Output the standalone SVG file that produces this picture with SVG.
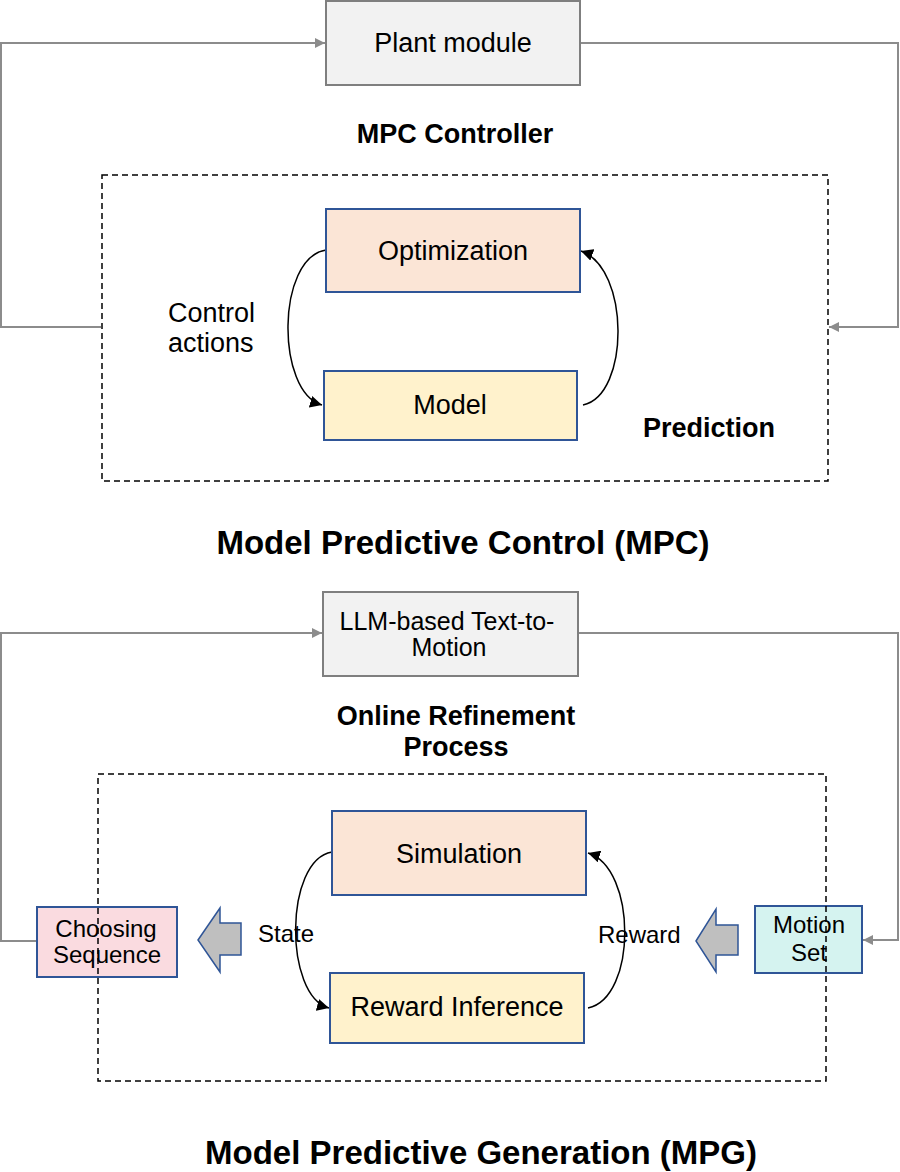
<svg xmlns="http://www.w3.org/2000/svg" width="900" height="1172" viewBox="0 0 900 1172">
<style>
text{font-family:"Liberation Sans",Arial,sans-serif;fill:#000}
.r{font-size:27px}
.s{font-size:24px}
.b{font-weight:bold;font-size:27px}
.t{font-weight:bold;font-size:33px}
.gray{fill:#f2f2f2;stroke:#7f7f7f;stroke-width:2}
.blue{stroke:#2f5597;stroke-width:2}
.dash{fill:none;stroke:#000;stroke-width:1.5;stroke-dasharray:6 4}
.gl{fill:none;stroke:#8c8c8c;stroke-width:2}
.cv{fill:none;stroke:#000;stroke-width:1.5}
.blk{fill:#bfbfbf;stroke:#2f5597;stroke-width:1.5}
</style>
<defs>
<marker id="ga" viewBox="0 0 10 10" refX="10" refY="5" markerWidth="5" markerHeight="5" orient="auto" markerUnits="strokeWidth"><path d="M0,0 L10,5 L0,10 z" fill="#8c8c8c"/></marker>
<marker id="ba" viewBox="0 0 10 10" refX="10" refY="5" markerWidth="8" markerHeight="8" orient="auto" markerUnits="strokeWidth"><path d="M0,0 L10,5 L0,10 z" fill="#000"/></marker>
</defs>

<g id="connectors">
<path class="gl" d="M101,327 H1 V43 H325" marker-end="url(#ga)"/>
<path class="gl" d="M580,43 H898 V327 H829" marker-end="url(#ga)"/>
<path class="cv" d="M326,250 C276,258 276,392 322,405" marker-end="url(#ba)"/>
<path class="cv" d="M583,405 C630,395 630,268 581,251" marker-end="url(#ba)"/>
<path class="gl" d="M37,941 H1 V633 H322" marker-end="url(#ga)"/>
<path class="gl" d="M578,633 H898 V940 H863" marker-end="url(#ga)"/>
<path class="cv" d="M332,852 C284,860 284,996 329,1008" marker-end="url(#ba)"/>
<path class="cv" d="M588,1008 C637,998 637,868 588,853" marker-end="url(#ba)"/>
<polygon class="blk" points="198,940 220,908 220,923 241,923 241,955 220,955 220,972"/>
<polygon class="blk" points="696,941 716,909 716,925 738,925 738,955 716,955 716,972"/>
</g>

<g id="plant">
<rect class="gray" x="326" y="1" width="254" height="84"/>
<text class="r" x="453" y="52" text-anchor="middle">Plant module</text>
</g>
<g id="mpc-label"><text class="b" x="455" y="143" text-anchor="middle">MPC Controller</text></g>
<g id="optimization">
<rect class="blue" fill="#fbe5d6" x="326" y="209" width="254" height="83"/>
<text class="r" x="453" y="260" text-anchor="middle">Optimization</text>
</g>
<g id="model">
<rect class="blue" fill="#fff2cc" x="324" y="371" width="253" height="69"/>
<text class="r" x="450" y="414" text-anchor="middle">Model</text>
</g>
<g id="control-actions">
<text class="r" x="168" y="322">Control</text>
<text class="r" x="168" y="352">actions</text>
</g>
<g id="prediction"><text class="b" x="643" y="437">Prediction</text></g>
<g id="mpc-box"><rect class="dash" x="102" y="175" width="726" height="306"/></g>
<g id="title-mpc"><text class="t" x="463" y="554" text-anchor="middle">Model Predictive Control (MPC)</text></g>

<g id="llm">
<rect class="gray" x="323" y="592" width="255" height="84"/>
<text class="s" x="447" y="630" text-anchor="middle" style="font-size:25px">LLM-based Text-to-</text>
<text class="s" x="449" y="656" text-anchor="middle" style="font-size:25px">Motion</text>
</g>
<g id="orp-label">
<text class="b" x="456" y="725" text-anchor="middle">Online Refinement</text>
<text class="b" x="456" y="756" text-anchor="middle">Process</text>
</g>
<g id="simulation">
<rect class="blue" fill="#fbe5d6" x="332" y="811" width="254" height="84"/>
<text class="r" x="459" y="863" text-anchor="middle">Simulation</text>
</g>
<g id="reward-inference">
<rect class="blue" fill="#fff2cc" x="330" y="973" width="254" height="70"/>
<text class="r" x="457" y="1016" text-anchor="middle">Reward Inference</text>
</g>
<g id="choosing">
<rect class="blue" fill="#fadbe0" x="37" y="907" width="140" height="70"/>
<text class="s" x="106" y="937" text-anchor="middle">Choosing</text>
<text class="s" x="107" y="963" text-anchor="middle">Sequence</text>
</g>
<g id="motion-set">
<rect class="blue" fill="#d5f3f0" x="755" y="906" width="107" height="67"/>
<text class="s" x="809" y="933" text-anchor="middle">Motion</text>
<text class="s" x="809" y="961" text-anchor="middle">Set</text>
</g>
<g id="state"><text class="s" x="258" y="942">State</text></g>
<g id="reward"><text class="s" x="598" y="943">Reward</text></g>
<g id="orp-box"><rect class="dash" x="98" y="774" width="728" height="307"/></g>
<g id="title-mpg"><text class="t" x="481" y="1164" text-anchor="middle">Model Predictive Generation (MPG)</text></g>
</svg>
